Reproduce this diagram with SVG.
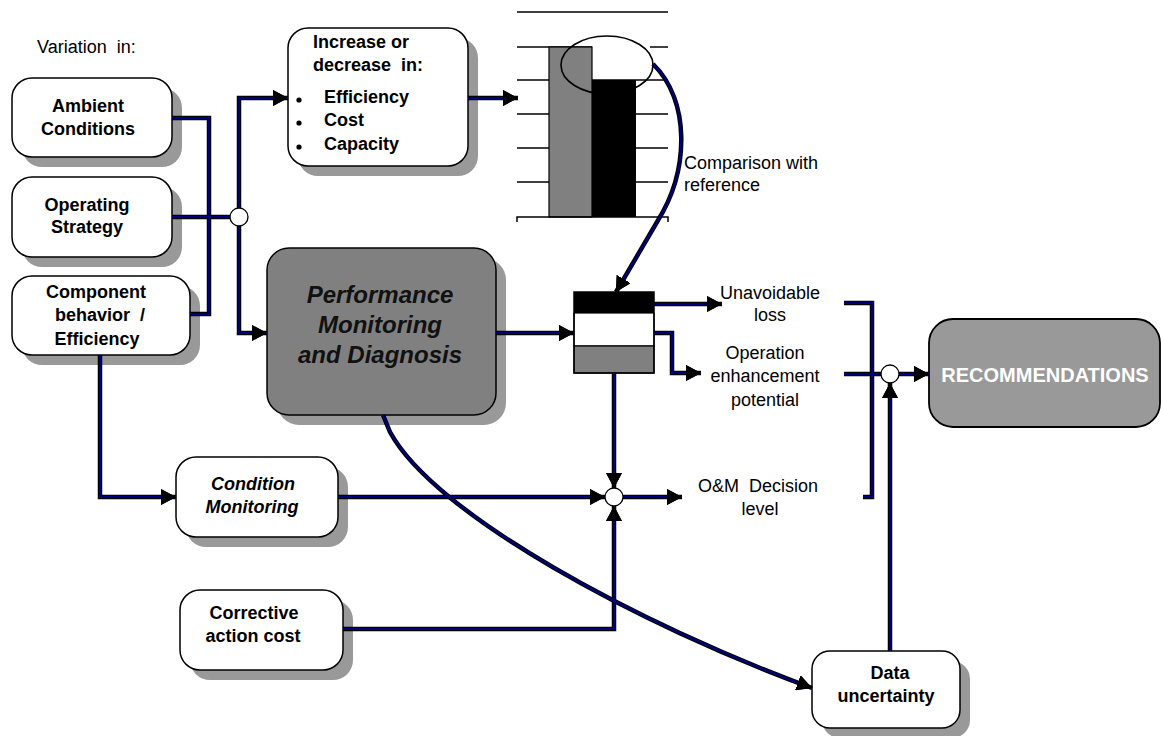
<svg xmlns="http://www.w3.org/2000/svg" xmlns:xlink="http://www.w3.org/1999/xlink" width="1161" height="736" viewBox="0 0 1161 736">
<style>
text{font-family:"Liberation Sans",Arial,sans-serif;fill:#000}
.b{font-weight:bold;font-size:18px;text-anchor:middle}
.bi{font-weight:bold;font-style:italic;font-size:18px;text-anchor:middle}
.r{font-size:18px}
.rc{font-size:18px;text-anchor:middle}
.pre{white-space:pre}
.box{fill:#fff;stroke:#000;stroke-width:1.5}
.shadow{fill:#999}
.jn{fill:#fff;stroke:#000;stroke-width:1.3}
.grid{stroke:#000;stroke-width:1.5;fill:none}
</style>
<defs>
<marker id="ah" markerUnits="userSpaceOnUse" markerWidth="15" markerHeight="16" refX="15" refY="8" orient="auto">
<path d="M0,0 L15,8 L0,16 Z" fill="#000"/>
</marker>
</defs>

<text class="r pre" x="37" y="53">Variation  in:</text>

<g id="chart">
<line class="grid" x1="517" y1="12" x2="668" y2="12"/>
<line class="grid" x1="517" y1="47" x2="668" y2="47"/>
<line class="grid" x1="517" y1="80" x2="668" y2="80"/>
<line class="grid" x1="517" y1="114" x2="668" y2="114"/>
<line class="grid" x1="517" y1="148" x2="668" y2="148"/>
<line class="grid" x1="517" y1="182" x2="668" y2="182"/>
<rect x="592" y="44" width="58" height="35" fill="#fff"/>
<rect x="549" y="47" width="43" height="170" fill="#808080" stroke="#000" stroke-width="1.2"/>
<rect x="592" y="80" width="44" height="137" fill="#000"/>
<path class="grid" d="M517,222 V217 H668 V222"/>
<ellipse cx="607" cy="65" rx="46" ry="29" fill="none" stroke="#000" stroke-width="1.6"/>
</g>
<text class="r" x="684" y="169">Comparison with</text>
<text class="r" x="684" y="191">reference</text>

<g id="ambient">
<rect class="shadow" x="22" y="88" width="160" height="79" rx="20"/>
<rect class="box" x="12" y="78" width="160" height="79" rx="20"/>
<text class="b" x="88" y="112">Ambient</text>
<text class="b" x="88" y="135">Conditions</text>
</g>
<g id="operating">
<rect class="shadow" x="22" y="187" width="160" height="80" rx="20"/>
<rect class="box" x="12" y="177" width="160" height="80" rx="20"/>
<text class="b" x="87" y="211">Operating</text>
<text class="b" x="87" y="233">Strategy</text>
</g>
<g id="component">
<rect class="shadow" x="22" y="286" width="178" height="79" rx="20"/>
<rect class="box" x="12" y="276" width="178" height="79" rx="20"/>
<text class="b" x="96" y="298">Component</text>
<text class="b pre" x="100" y="321">behavior  /</text>
<text class="b" x="97" y="345">Efficiency</text>
</g>
<g id="increase">
<rect class="shadow" x="298" y="38" width="180" height="138" rx="20"/>
<rect class="box" x="288" y="28" width="180" height="138" rx="20"/>
<text class="b" x="313" y="48" style="text-anchor:start">Increase or</text>
<text class="b pre" x="313" y="71" style="text-anchor:start">decrease  in:</text>
<circle cx="299" cy="100" r="2.6"/>
<circle cx="299" cy="123" r="2.6"/>
<circle cx="299" cy="147" r="2.6"/>
<text class="b" x="324" y="103" style="text-anchor:start">Efficiency</text>
<text class="b" x="324" y="126" style="text-anchor:start">Cost</text>
<text class="b" x="324" y="150" style="text-anchor:start">Capacity</text>
</g>
<g id="performance">
<rect class="shadow" x="277" y="258" width="229" height="167" rx="22"/>
<rect x="267" y="248" width="229" height="167" rx="22" fill="#808080" stroke="#000" stroke-width="1.5"/>
<text class="bi" x="380" y="303" style="font-size:24px;fill:#111">Performance</text>
<text class="bi" x="380" y="333" style="font-size:24px;fill:#111">Monitoring</text>
<text class="bi" x="380" y="363" style="font-size:24px;fill:#111">and Diagnosis</text>
</g>
<g id="stack">
<rect x="574" y="292" width="80" height="21" fill="#000"/>
<rect x="574" y="313" width="80" height="33" fill="#fff" stroke="#000" stroke-width="1.2"/>
<rect x="574" y="346" width="80" height="27" fill="#808080" stroke="#000" stroke-width="1.2"/>
<rect x="574" y="292" width="80" height="81" fill="none" stroke="#000" stroke-width="1.5"/>
</g>
<g id="unavoidable">
<text class="rc" x="770" y="299">Unavoidable</text>
<text class="rc" x="770" y="321">loss</text>
</g>
<g id="operation">
<text class="rc" x="765" y="359">Operation</text>
<text class="rc" x="765" y="382">enhancement</text>
<text class="rc" x="765" y="406">potential</text>
</g>
<g id="omdecision">
<text class="rc pre" x="758" y="492">O&amp;M  Decision</text>
<text class="rc" x="760" y="515">level</text>
</g>
<g id="condition">
<rect class="shadow" x="186" y="467" width="162" height="80" rx="20"/>
<rect class="box" x="176" y="457" width="162" height="80" rx="20"/>
<text class="bi" x="253" y="490">Condition</text>
<text class="bi" x="252" y="513">Monitoring</text>
</g>
<g id="corrective">
<rect class="shadow" x="190" y="600" width="163" height="80" rx="20"/>
<rect class="box" x="180" y="590" width="163" height="80" rx="20"/>
<text class="b" x="254" y="619">Corrective</text>
<text class="b" x="253" y="642">action cost</text>
</g>
<g id="data">
<rect class="shadow" x="822" y="661" width="148" height="77" rx="18"/>
<rect class="box" x="812" y="651" width="148" height="77" rx="18"/>
<text class="b" x="890" y="679">Data</text>
<text class="b" x="886" y="702">uncertainty</text>
</g>
<g id="recommendations">
<rect x="929" y="319" width="231" height="108" rx="24" fill="#999" stroke="#000" stroke-width="1.8"/>
<text class="b" x="1045" y="382" style="font-size:20px;fill:#fff">RECOMMENDATIONS</text>
</g>

<g id="connectors" fill="none">
<g stroke="#000" stroke-width="4.5">
<g id="wires">
<path d="M172,118 H209 V314 H190"/>
<path d="M172,217 H230"/>
<path d="M239,208 V98 H288" marker-end="url(#ah)"/>
<path d="M239,226 V333 H267" marker-end="url(#ah)"/>
<path d="M468,98 H518" marker-end="url(#ah)"/>
<path d="M496,333 H574" marker-end="url(#ah)"/>
<path d="M654,304 H722" marker-end="url(#ah)"/>
<path d="M654,333 H672 V373 H701" marker-end="url(#ah)"/>
<path d="M614,373 V488" marker-end="url(#ah)"/>
<path d="M338,497 H605" marker-end="url(#ah)"/>
<path d="M343,629 H614 V506" marker-end="url(#ah)"/>
<path d="M623,497 H682" marker-end="url(#ah)"/>
<path d="M100,355 V497 H176" marker-end="url(#ah)"/>
<path d="M383,415 L390,432 C435,515 640,625 812,688" marker-end="url(#ah)"/>
<path d="M653,64 C690,100 690,170 657,222 L616,292" marker-end="url(#ah)"/>
<path d="M844,303 H872 V497 H863"/>
<path d="M844,374 H881"/>
<path d="M899,374 H929" marker-end="url(#ah)"/>
<path d="M890,651 V383" marker-end="url(#ah)"/>
</g>
</g>
<use xlink:href="#wires" href="#wires" stroke="#00007a" stroke-width="2.2"/>
</g>

<g id="junctions">
<circle class="jn" cx="239" cy="217" r="9"/>
<circle class="jn" cx="614" cy="497" r="9"/>
<circle class="jn" cx="890" cy="374" r="9"/>
</g>
</svg>
